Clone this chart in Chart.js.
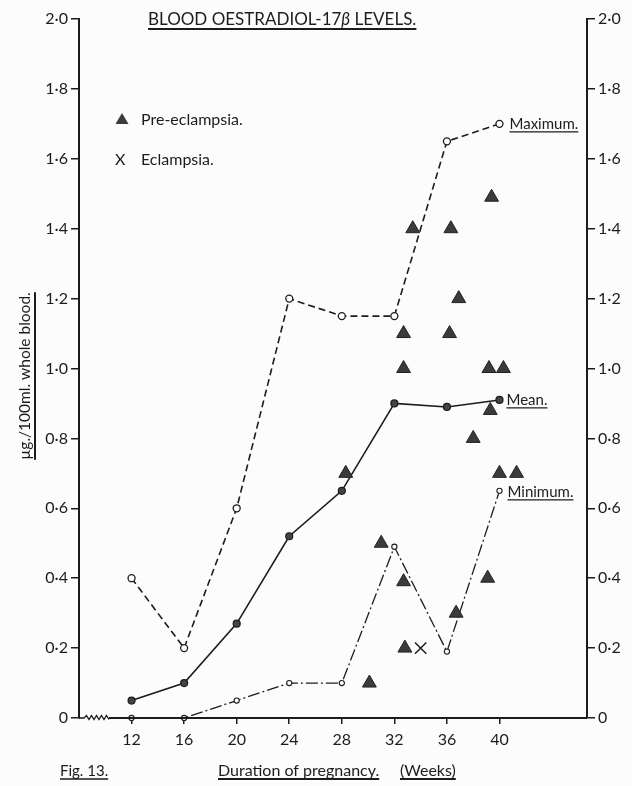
<!DOCTYPE html>
<html>
<head>
<meta charset="utf-8">
<script src="https://cdn.jsdelivr.net/npm/chart.js@4.4.0/dist/chart.umd.min.js"></script>
<style>
  html, body { margin: 0; padding: 0; background: #fcfcfc; }
</style>
</head>
<body>
<canvas id="oestradiol" width="632" height="786"></canvas>
<script>
// Blood oestradiol-17β levels, Fig. 13

const weeks = [12, 16, 20, 24, 28, 32, 36, 40];
const maximum = [0.40, 0.20, 0.60, 1.20, 1.15, 1.15, 1.65, 1.70];
const mean = [0.05, 0.10, 0.27, 0.52, 0.65, 0.90, 0.89, 0.91];
const minimum = [0.00, 0.00, 0.05, 0.10, 0.10, 0.49, 0.19, 0.65];

const preEclampsiaWeeks = [33.4, 36.3, 39.4, 36.9, 32.7, 36.2, 32.7, 39.2, 40.3, 39.3, 38.0, 28.3, 40.0, 41.3, 31.0, 32.7, 39.1, 36.7, 32.8, 30.1];
const preEclampsiaLevels = [1.40, 1.40, 1.49, 1.20, 1.10, 1.10, 1.00, 1.00, 1.00, 0.88, 0.80, 0.70, 0.70, 0.70, 0.50, 0.39, 0.40, 0.30, 0.20, 0.10];

const eclampsiaWeeks = [34.0];
const eclampsiaLevels = [0.20];

const weekTicks = [12, 16, 20, 24, 28, 32, 36, 40];
const levelTicks = [0, 0.2, 0.4, 0.6, 0.8, 1.0, 1.2, 1.4, 1.6, 1.8, 2.0];

const ink = '#1c1c1c';
const face = 'Lato, "Open Sans", sans-serif';

const pts = (xs, ys) => xs.map((w, i) => ({ x: w, y: ys[i] }));
const fmtLevel = v => v === 0 ? '0' : v.toFixed(1).replace('.', '·');

function underlined(ctx, text, x, y, gap, lw) {
  ctx.fillText(text, x, y);
  const w = ctx.measureText(text).width;
  ctx.lineWidth = lw || 1.3;
  ctx.beginPath();
  ctx.moveTo(x, y + gap);
  ctx.lineTo(x + w, y + gap);
  ctx.stroke();
  return w;
}

const paperNotes = {
  id: 'paperNotes',
  afterDraw(chart) {
    const { ctx, chartArea: a, scales } = chart;
    ctx.save();
    ctx.fillStyle = ink;
    ctx.strokeStyle = ink;

    // x axis with a break near the origin
    ctx.lineWidth = 1.3;
    ctx.beginPath();
    ctx.moveTo(a.left, a.bottom);
    ctx.lineTo(a.left + 5, a.bottom);
    let zx = a.left + 5;
    for (let k = 0; k < 5; k++) {
      ctx.lineTo(zx + 2.5, a.bottom - 2.5);
      ctx.lineTo(zx + 5, a.bottom + 1.5);
      zx += 5;
    }
    ctx.stroke();
    ctx.lineWidth = 1.8;
    ctx.beginPath();
    ctx.moveTo(zx, a.bottom);
    ctx.lineTo(a.right, a.bottom);
    ctx.stroke();

    // title
    ctx.textBaseline = 'alphabetic';
    const t1 = 'BLOOD OESTRADIOL-17';
    const t3 = ' LEVELS.';
    ctx.font = '17px ' + face;
    const w1 = ctx.measureText(t1).width;
    ctx.font = 'italic 17px ' + face;
    const w2 = ctx.measureText('β').width;
    ctx.font = '17px ' + face;
    const w3 = ctx.measureText(t3).width;
    const tx = 148;
    ctx.fillText(t1, tx, 25);
    ctx.font = 'italic 17px ' + face;
    ctx.fillText('β', tx + w1, 25);
    ctx.font = '17px ' + face;
    ctx.fillText(t3, tx + w1 + w2, 25);
    ctx.lineWidth = 2;
    ctx.beginPath();
    ctx.moveTo(tx, 29);
    ctx.lineTo(tx + w1 + w2 + w3, 29);
    ctx.stroke();

    // legend
    ctx.font = '16px ' + face;
    ctx.textBaseline = 'middle';
    ctx.fillStyle = '#3b3b3b';
    ctx.beginPath();
    ctx.moveTo(122, 113);
    ctx.lineTo(128.5, 124);
    ctx.lineTo(115.5, 124);
    ctx.closePath();
    ctx.fill();
    ctx.fillStyle = ink;
    ctx.fillText('Pre-eclampsia.', 141, 120);
    ctx.fillText('X', 115, 160);
    ctx.fillText('Eclampsia.', 141, 160);

    // curve labels next to the last point of each line
    const x = scales.x, y = scales.y;
    const lastX = x.getPixelForValue(weeks[weeks.length - 1]);
    ctx.font = '15px ' + face;
    ctx.textBaseline = 'alphabetic';
    underlined(ctx, 'Maximum.', lastX + 10, y.getPixelForValue(maximum[maximum.length - 1]) + 5, 3);
    underlined(ctx, 'Mean.', lastX + 7, y.getPixelForValue(mean[mean.length - 1]) + 5, 3);
    underlined(ctx, 'Minimum.', lastX + 8, y.getPixelForValue(minimum[minimum.length - 1]) + 6, 3);

    // footer
    ctx.font = '15px ' + face;
    underlined(ctx, 'Fig. 13.', 60, 776, 3);
    ctx.font = '16px ' + face;
    underlined(ctx, 'Duration of pregnancy.', 218, 776, 3, 1.8);
    underlined(ctx, '(Weeks)', 400, 776, 3, 1.8);

    // y axis title, rotated
    ctx.save();
    ctx.translate(30, 376);
    ctx.rotate(-Math.PI / 2);
    ctx.font = '15.5px ' + face;
    ctx.textAlign = 'left';
    const yt = 'µg./100ml. whole blood.';
    const yw = ctx.measureText(yt).width;
    underlined(ctx, yt, -yw / 2, 0, 5, 2);
    ctx.restore();

    ctx.restore();
  }
};

const levelAxis = (position, width) => ({
  type: 'linear',
  position: position,
  min: 0,
  max: 2,
  afterBuildTicks: s => { s.ticks = levelTicks.map(v => ({ value: v })); },
  afterFit: s => { s.width = width; },
  grid: { drawOnChartArea: false, drawTicks: true, tickLength: 8, color: ink, lineWidth: 1.5 },
  border: { display: true, color: ink, width: 2 },
  ticks: {
    color: ink,
    padding: 3,
    font: { family: face, size: 16 },
    callback: v => fmtLevel(v)
  }
});

new Chart(document.getElementById('oestradiol'), {
  type: 'scatter',
  data: {
    datasets: [
      {
        label: 'Pre-eclampsia.',
        data: pts(preEclampsiaWeeks, preEclampsiaLevels),
        pointStyle: 'triangle',
        radius: 8,
        backgroundColor: '#3b3b3b',
        borderColor: '#222',
        borderWidth: 1,
        showLine: false
      },
      {
        label: 'Eclampsia.',
        data: pts(eclampsiaWeeks, eclampsiaLevels),
        pointStyle: 'crossRot',
        radius: 8,
        borderColor: ink,
        borderWidth: 1.5,
        showLine: false
      },
      {
        label: 'Maximum.',
        data: pts(weeks, maximum),
        showLine: true,
        borderColor: ink,
        borderWidth: 1.6,
        borderDash: [7, 4],
        pointRadius: 3.5,
        pointBorderWidth: 1.3,
        pointBackgroundColor: '#fff',
        pointBorderColor: ink
      },
      {
        label: 'Mean.',
        data: pts(weeks, mean),
        showLine: true,
        borderColor: ink,
        borderWidth: 1.6,
        pointRadius: 3.5,
        pointBorderWidth: 1.2,
        pointBackgroundColor: '#444',
        pointBorderColor: ink
      },
      {
        label: 'Minimum.',
        data: pts(weeks, minimum),
        showLine: true,
        borderColor: ink,
        borderWidth: 1.3,
        borderDash: [12, 3, 2, 3],
        pointRadius: 2.6,
        pointBorderWidth: 1.1,
        pointBackgroundColor: '#fff',
        pointBorderColor: ink
      }
    ]
  },
  options: {
    responsive: false,
    animation: false,
    clip: false,
    layout: { padding: { top: 19, left: 0, right: 0, bottom: 0 } },
    plugins: {
      legend: { display: false },
      tooltip: { enabled: false },
      title: { display: false }
    },
    scales: {
      x: {
        type: 'linear',
        min: 8,
        max: 46.66,
        afterBuildTicks: s => { s.ticks = weekTicks.map(v => ({ value: v })); },
        afterFit: s => { s.height = 68; },
        grid: { drawOnChartArea: false, drawTicks: true, tickLength: 6, color: ink, lineWidth: 1.5 },
        border: { display: false },
        ticks: { color: ink, padding: 6, font: { family: face, size: 16 } }
      },
      y: levelAxis('left', 79),
      y2: levelAxis('right', 45)
    }
  },
  plugins: [paperNotes]
});
</script>
</body>
</html>
